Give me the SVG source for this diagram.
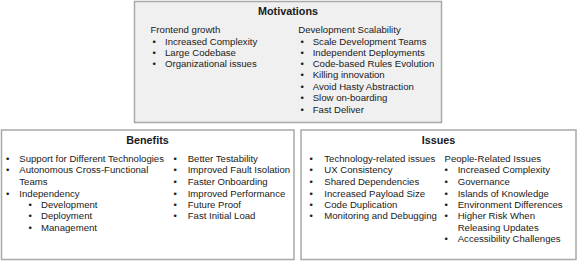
<svg xmlns="http://www.w3.org/2000/svg" width="581" height="261" viewBox="0 0 581 261">
<style>
.box{fill:#ffffff;stroke:#a9a9a9;stroke-width:1.5}
.mot{fill:#f0f0f0}
.t{font-family:"Liberation Sans",Arial,sans-serif;font-size:9.6px;fill:#1a1a1a}
.h{font-family:"Liberation Sans",Arial,sans-serif;font-size:10.8px;font-weight:bold;fill:#1a1a1a;text-anchor:middle}
</style>
<rect width="581" height="261" fill="#ffffff"/>
<g id="motivations">
<rect class="box mot" x="134.5" y="1.5" width="307" height="121"/>
<text class="h" x="288" y="15">Motivations</text>
<text class="t" x="150.5" y="32.5">Frontend growth</text>
<text class="t" x="152.5" y="44.5">•</text><text class="t" x="165" y="44.5">Increased Complexity</text>
<text class="t" x="152.5" y="55.7">•</text><text class="t" x="165" y="55.7">Large Codebase</text>
<text class="t" x="152.5" y="67">•</text><text class="t" x="165" y="67">Organizational issues</text>
<text class="t" x="298.3" y="32.5">Development Scalability</text>
<text class="t" x="300.5" y="44.5">•</text><text class="t" x="312.7" y="44.5">Scale Development Teams</text>
<text class="t" x="300.5" y="55.7">•</text><text class="t" x="312.7" y="55.7">Independent Deployments</text>
<text class="t" x="300.5" y="67">•</text><text class="t" x="312.7" y="67">Code-based Rules Evolution</text>
<text class="t" x="300.5" y="78.3">•</text><text class="t" x="312.7" y="78.3">Killing innovation</text>
<text class="t" x="300.5" y="89.7">•</text><text class="t" x="312.7" y="89.7">Avoid Hasty Abstraction</text>
<text class="t" x="300.5" y="101">•</text><text class="t" x="312.7" y="101">Slow on-boarding</text>
<text class="t" x="300.5" y="112.5">•</text><text class="t" x="312.7" y="112.5">Fast Deliver</text>
</g>
<g id="benefits">
<rect class="box" x="1.5" y="130" width="292.5" height="129.5"/>
<text class="h" x="147.5" y="144">Benefits</text>
<text class="t" x="6" y="161.8">•</text><text class="t" x="19.3" y="161.8">Support for Different Technologies</text>
<text class="t" x="6" y="173">•</text><text class="t" x="19.3" y="173">Autonomous Cross-Functional</text>
<text class="t" x="19.3" y="184.5">Teams</text>
<text class="t" x="6" y="196.8">•</text><text class="t" x="19.3" y="196.8">Independency</text>
<text class="t" x="28.5" y="208">•</text><text class="t" x="41" y="208">Development</text>
<text class="t" x="28.5" y="219.3">•</text><text class="t" x="41" y="219.3">Deployment</text>
<text class="t" x="28.5" y="230.5">•</text><text class="t" x="41" y="230.5">Management</text>
<text class="t" x="173.5" y="161.8">•</text><text class="t" x="187.7" y="161.8">Better Testability</text>
<text class="t" x="173.5" y="173">•</text><text class="t" x="187.7" y="173">Improved Fault Isolation</text>
<text class="t" x="173.5" y="184.5">•</text><text class="t" x="187.7" y="184.5">Faster Onboarding</text>
<text class="t" x="173.5" y="196.8">•</text><text class="t" x="187.7" y="196.8">Improved Performance</text>
<text class="t" x="173.5" y="208">•</text><text class="t" x="187.7" y="208">Future Proof</text>
<text class="t" x="173.5" y="219.3">•</text><text class="t" x="187.7" y="219.3">Fast Initial Load</text>
</g>
<g id="issues">
<rect class="box" x="301" y="130" width="275" height="129.5"/>
<text class="h" x="438.5" y="144">Issues</text>
<text class="t" x="309.5" y="161.8">•</text><text class="t" x="324.3" y="161.8">Technology-related issues</text>
<text class="t" x="309.5" y="173">•</text><text class="t" x="324.3" y="173">UX Consistency</text>
<text class="t" x="309.5" y="184.5">•</text><text class="t" x="324.3" y="184.5">Shared Dependencies</text>
<text class="t" x="309.5" y="196.8">•</text><text class="t" x="324.3" y="196.8">Increased Payload Size</text>
<text class="t" x="309.5" y="208">•</text><text class="t" x="324.3" y="208">Code Duplication</text>
<text class="t" x="309.5" y="219.3">•</text><text class="t" x="324.3" y="219.3">Monitoring and Debugging</text>
<text class="t" x="444.5" y="161.8">People-Related Issues</text>
<text class="t" x="444.5" y="173">•</text><text class="t" x="457.7" y="173">Increased Complexity</text>
<text class="t" x="444.5" y="184.5">•</text><text class="t" x="457.7" y="184.5">Governance</text>
<text class="t" x="444.5" y="196.8">•</text><text class="t" x="457.7" y="196.8">Islands of Knowledge</text>
<text class="t" x="444.5" y="208">•</text><text class="t" x="457.7" y="208">Environment Differences</text>
<text class="t" x="444.5" y="219.3">•</text><text class="t" x="457.7" y="219.3">Higher Risk When</text>
<text class="t" x="457.7" y="230.5">Releasing Updates</text>
<text class="t" x="444.5" y="242">•</text><text class="t" x="457.7" y="242">Accessibility Challenges</text>
</g>
</svg>
